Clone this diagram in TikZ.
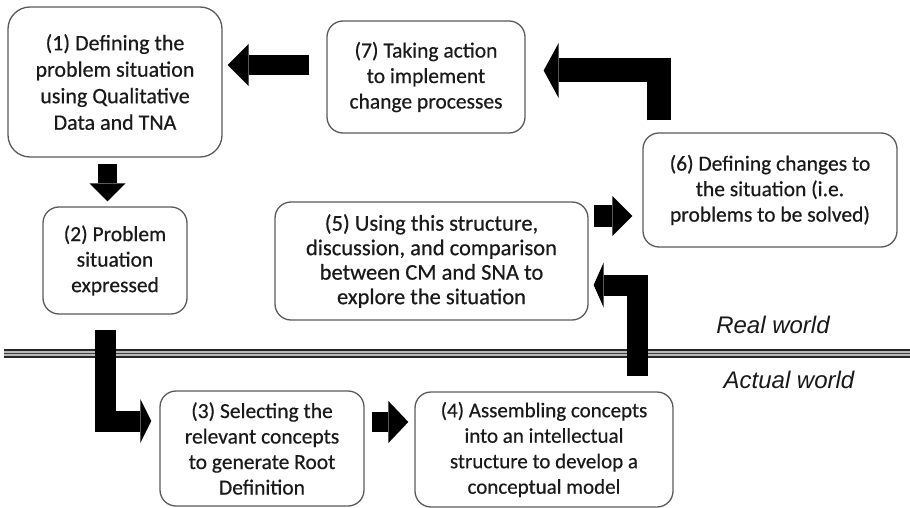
\documentclass[tikz,border=0pt]{standalone}
\usepackage{fontspec}
\setmainfont[FakeBold=0.5]{Carlito}
\newfontfamily\labfont{Liberation Sans}
\usetikzlibrary{arrows.meta,calc}
\definecolor{boxline}{HTML}{5A5A5A}
\definecolor{txt}{HTML}{1A1A1A}
\tikzset{
  box/.style={draw=boxline, line width=1.3pt, rounded corners=16pt, align=center, inner sep=0pt,
    text=txt, font=\fontsize{21.5}{25.5}\selectfont},
  blk/.style={line width=#1, line join=miter, draw=black},
  lab/.style={font=\labfont\itshape\fontsize{24}{28}\selectfont, text=black!90, inner sep=0pt}
}
\begin{document}
\begin{tikzpicture}[x=1pt,y=-1pt]
\useasboundingbox (0,0) rectangle (910,508);
% boxes
\node[box, rounded corners=22pt, minimum width=214pt, minimum height=150pt,
  font=\fontsize{22}{26.5}\selectfont] (n1) at (115,82)
  {(1) Defining the\\problem situation\\using Qualitative\\Data and TNA};
\node[box, minimum width=144pt, minimum height=107pt] (n2) at (115,260.5)
  {(2) Problem\\situation\\expressed};
\node[box, minimum width=204pt, minimum height=115pt] (n3) at (262,448.5)
  {(3) Selecting the\\relevant concepts\\to generate Root\\Definition};
\node[box, minimum width=258pt, minimum height=115pt, font=\fontsize{21}{25.5}\selectfont] (n4) at (544,449.5)
  {(4) Assembling concepts\\into an intellectual\\structure to develop a\\conceptual model};
\node[box, minimum width=313pt, minimum height=118pt, font=\fontsize{22.5}{24.5}\selectfont] (n5) at (431.5,261)
  {(5) Using this structure,\\discussion, and comparison\\between CM and SNA to\\explore the situation};
\node[box, minimum width=254pt, minimum height=114pt] (n6) at (770,190)
  {(6) Defining changes to\\the situation (i.e.\\problems to be solved)};
\node[box, minimum width=198pt, minimum height=112pt] (n7) at (426,77)
  {(7) Taking action\\to implement\\change processes};
% divider
\coordinate (dl) at (4,353.5);
\coordinate (dr) at (910,353.5);
\draw[line width=9pt, gray!55] (dl) -- (dr);
\draw[line width=1.4pt, black!85] ($(dl)+(0,-3.5)$) -- ($(dr)+(0,-3.5)$);
\draw[line width=1.2pt, black!75] (dl) -- (dr);
\draw[line width=1.4pt, black!85] ($(dl)+(0,3.5)$) -- ($(dr)+(0,3.5)$);
\node[lab] (rw) at (773,325) {Real world};
\node[lab] (aw) at (789,380) {Actual world};
% block arrows
\draw[blk=20pt, -{Triangle[length=21pt,width=42pt,line width=0pt]}]
  ($(n7.west)+(-17,-12)$) -- ($(n1.east)+(5,-17)$);
\draw[blk=19pt, -{Triangle[length=18pt,width=36pt,line width=0pt]}]
  ($(n1.south)+(-7.5,6)$) -- ($(n2.north)+(-7.5,-5)$);
\draw[blk=21pt, -{Triangle[length=11pt,width=44pt,line width=0pt]}]
  ($(n2.south)+(-9.5,15)$) |- ($(n3.west)+(-8,-27.5)$);
\draw[blk=20pt, -{Triangle[length=20pt,width=42pt,line width=0pt]}]
  ($(n3.east)+(7,-26.5)$) -- ($(n4.west)+(-6,-27.5)$);
\draw[blk=21pt, -{Triangle[length=10pt,width=45pt,line width=0pt]}]
  ($(n4.north)+(93.5,-15)$) |- ($(n5.east)+(5,24)$);
\draw[blk=22pt, -{Triangle[length=20pt,width=40pt,line width=0pt]}]
  ($(n5.east)+(5,-45)$) -- ($(n6.west)+(-10,26)$);
\draw[blk=24pt, -{Triangle[length=15pt,width=55pt,line width=0pt]}]
  ($(n6.north)+(-111.5,-12)$) |- ($(n7.east)+(18,-6.5)$);
\end{tikzpicture}
\end{document}
